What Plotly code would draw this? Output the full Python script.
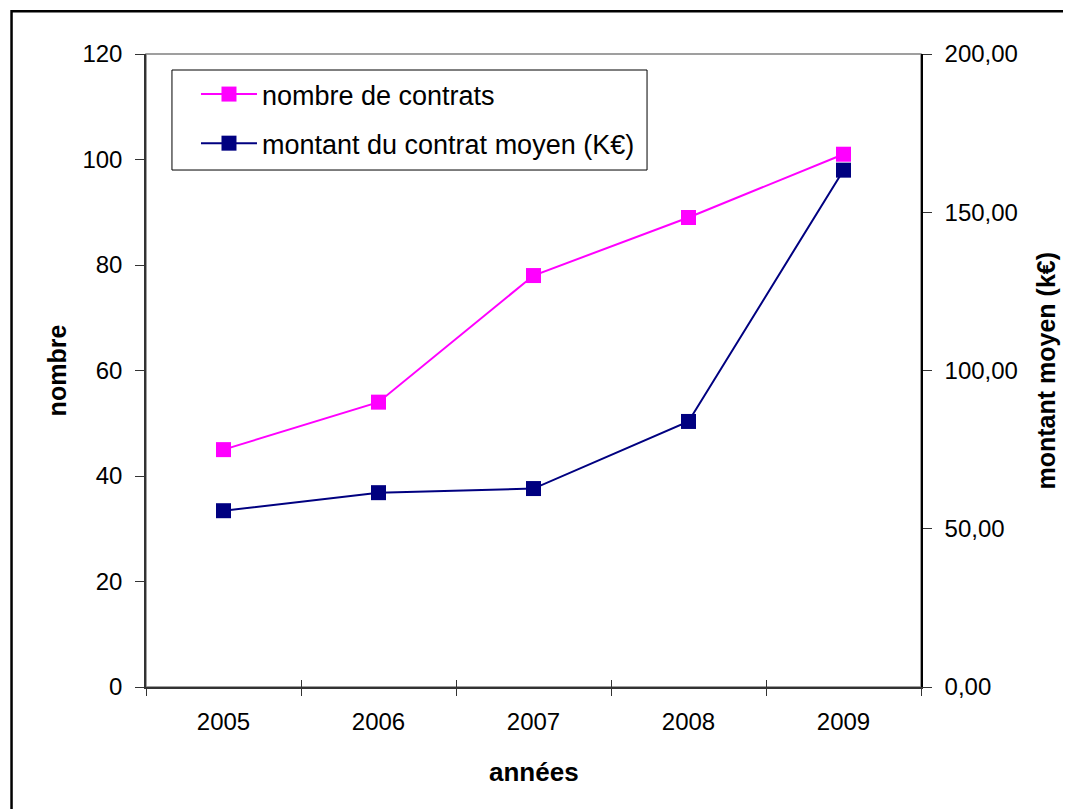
import plotly.graph_objects as go

annees = ["2005", "2006", "2007", "2008", "2009"]
nombre_contrats = [45, 54, 78, 89, 101]
montant_moyen = [55.7, 61.4, 62.7, 83.9, 163.3]

left_ticks = [0, 20, 40, 60, 80, 100, 120]
right_ticks = [0, 50, 100, 150, 200]

FONT = "Liberation Sans, Arial, sans-serif"

fig = go.Figure()
fig.add_trace(go.Scatter(
    x=annees, y=nombre_contrats, name="nombre de contrats",
    mode="lines+markers", legendgroup="a",
    line=dict(color="#FF00FF", width=2),
    marker=dict(symbol="square", size=15, color="#FF00FF"),
))
fig.add_trace(go.Scatter(
    x=annees, y=montant_moyen, name="montant du contrat moyen (K€)",
    mode="lines+markers", legendgroup="b", yaxis="y2",
    line=dict(color="#000080", width=2),
    marker=dict(symbol="square", size=15, color="#000080"),
))
# helper empty trace so the overlay x axis (inner half of the crossing ticks) is drawn
fig.add_trace(go.Scatter(x=[], y=[], xaxis="x2", showlegend=False, hoverinfo="skip"))

fig.update_layout(
    width=1063, height=801,
    margin=dict(l=138, r=150, t=46, b=122),
    paper_bgcolor="white", plot_bgcolor="white",
    font=dict(family=FONT, size=24, color="black"),
    separators=",.",
    showlegend=True,
    legend=dict(
        x=0.0645, y=0.9747, xanchor="left", yanchor="top",
        borderwidth=0, bgcolor="rgba(0,0,0,0)",
        font=dict(family=FONT, size=27, color="black"),
        traceorder="grouped", tracegroupgap=11, itemwidth=56,
    ),
    xaxis=dict(
        type="category", categoryarray=annees, range=[-0.5, 4.5],
        tickson="boundaries", ticks="outside", ticklen=7, tickcolor="#333333",
        showline=True, linecolor="#333333", linewidth=1.5,
        showgrid=False, zeroline=False, ticklabelstandoff=12,
    ),
    xaxis2=dict(
        type="category", categoryarray=annees, range=[-0.5, 4.5],
        overlaying="x", anchor="y", side="bottom",
        tickson="boundaries", ticks="inside", ticklen=7, tickcolor="#333333",
        showticklabels=False, showline=False, showgrid=False, zeroline=False,
    ),
    yaxis=dict(
        range=[0, 120], tickvals=left_ticks, ticks="outside", ticklen=9,
        tickcolor="#333333", showline=True, linecolor="#333333", linewidth=1.5,
        showgrid=False, zeroline=False, ticklabelstandoff=8,
    ),
    yaxis2=dict(
        range=[0, 200], tickvals=right_ticks, tickformat=".2f",
        overlaying="y", side="right", anchor="x",
        ticks="outside", ticklen=9, tickcolor="#333333",
        showline=True, linecolor="black", linewidth=1.5,
        showgrid=False, zeroline=False, ticklabelstandoff=8,
    ),
    shapes=[
        # plot-area frame
        dict(type="rect", xref="paper", yref="paper", x0=0, x1=1, y0=0, y1=1,
             line=dict(color="#808080", width=1.5), layer="below"),
        # outer chart frame
        dict(type="rect", xref="paper", yref="paper", x0=-0.1735, x1=1.3, y0=-0.3, y1=1.0675,
             line=dict(color="black", width=2.5), layer="below"),
        # legend frame
        dict(type="rect", xref="paper", yref="paper", x0=0.0335, x1=0.6465, y0=0.8167, y1=0.9747,
             line=dict(color="black", width=1), fillcolor="white", layer="below"),
    ],
    annotations=[
        dict(text="<b>nombre</b>", xref="paper", yref="paper", x=-0.115, y=0.5,
             xanchor="center", yanchor="middle",
             textangle=-90, showarrow=False, font=dict(family=FONT, size=25)),
        dict(text="<b>années</b>", xref="paper", yref="paper", x=0.5, y=-0.134,
             xanchor="center", yanchor="middle",
             showarrow=False, font=dict(family=FONT, size=26)),
        dict(text="<b>montant moyen (k€)</b>", xref="paper", yref="paper", x=1.16, y=0.5,
             xanchor="center", yanchor="middle",
             textangle=-90, showarrow=False, font=dict(family=FONT, size=25)),
    ],
)

fig.write_html("out.html")
